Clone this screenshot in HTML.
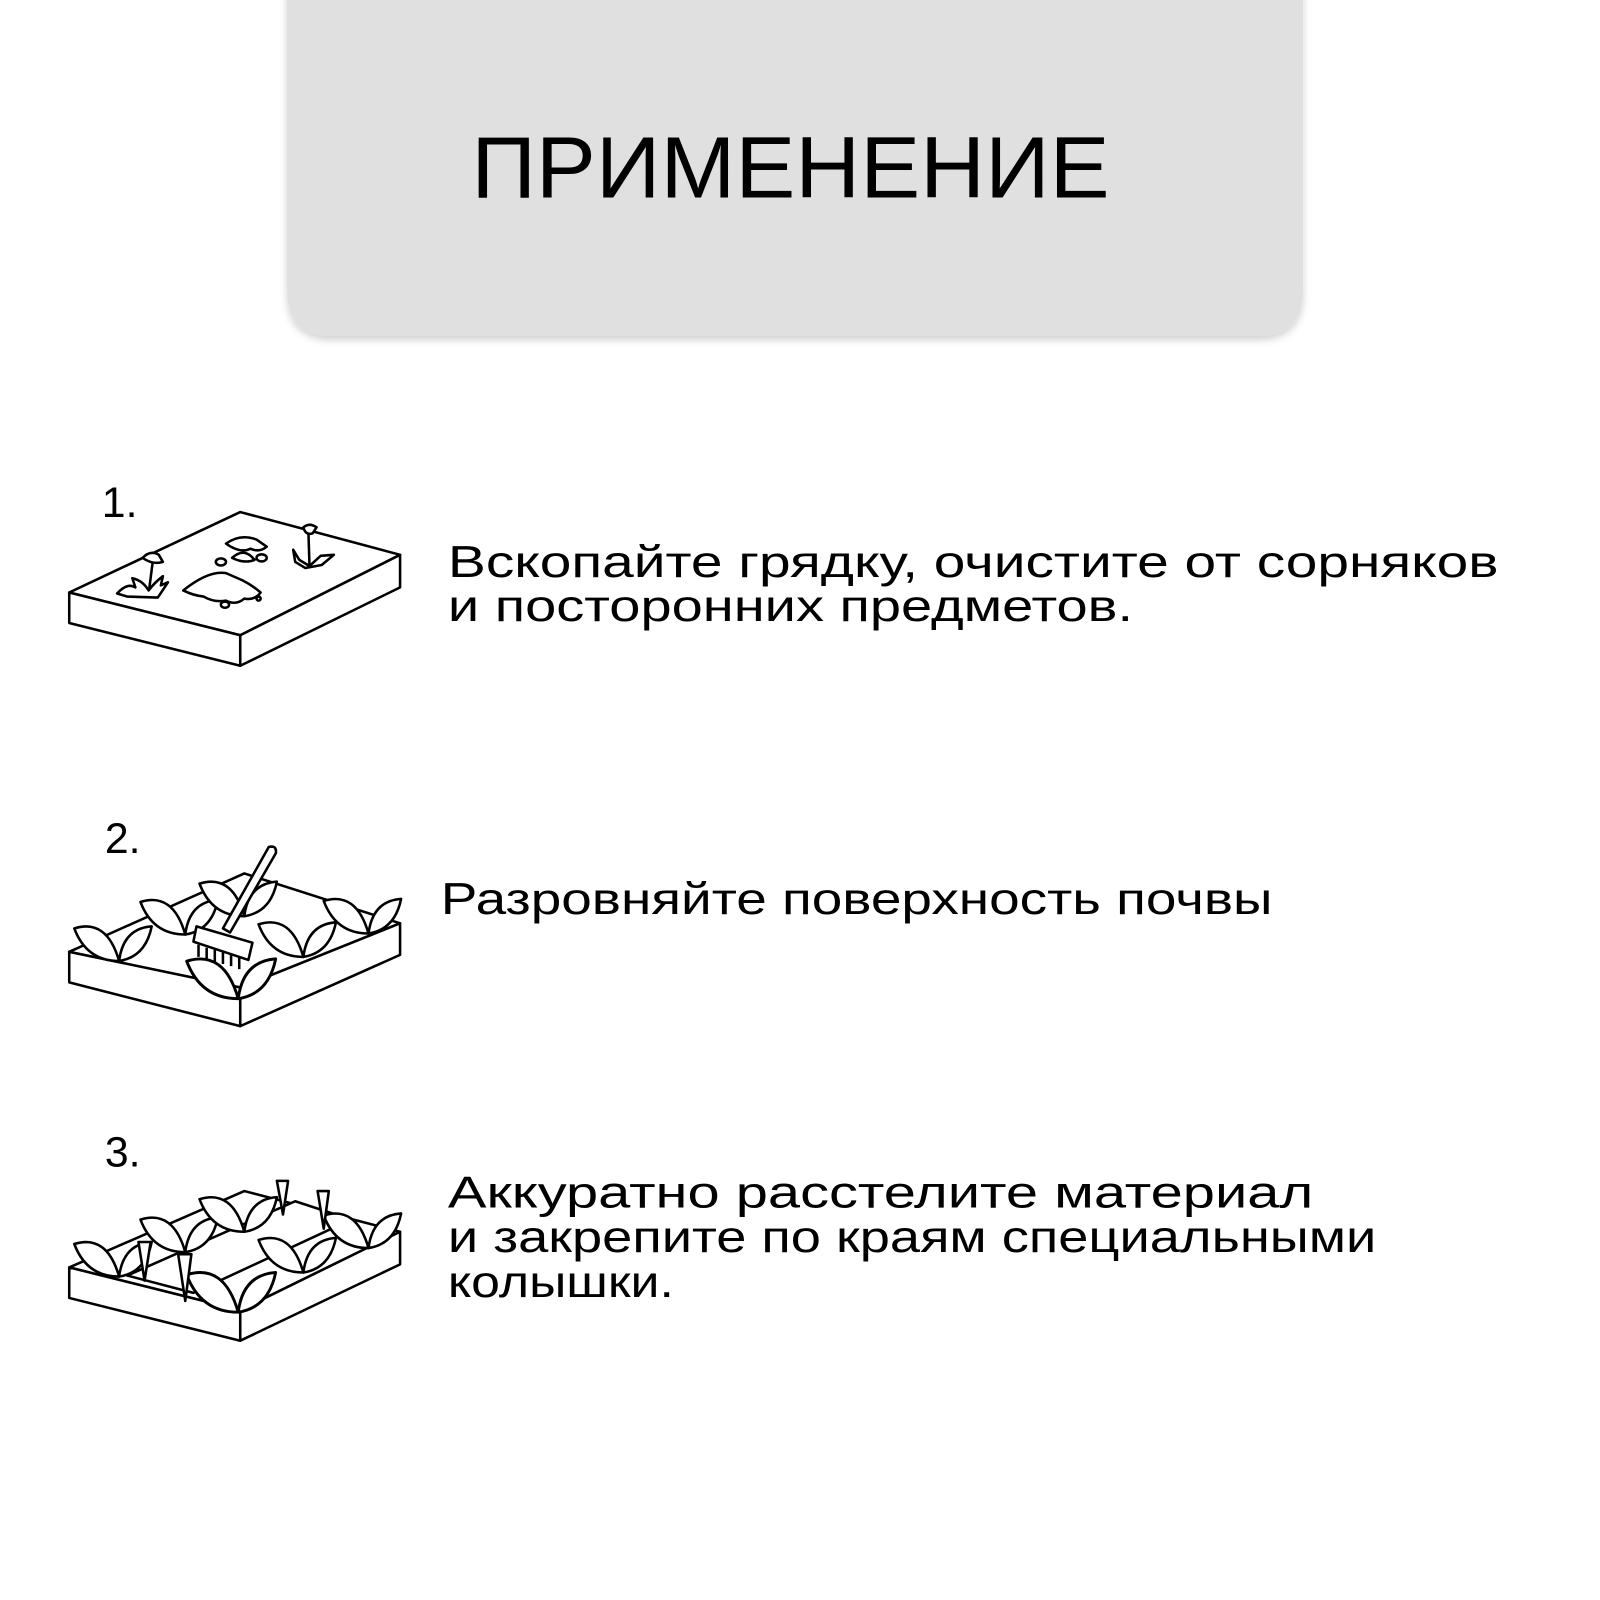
<!DOCTYPE html>
<html><head><meta charset="utf-8"><style>
html,body{margin:0;padding:0;background:#fff;width:1600px;height:1600px;overflow:hidden}
svg{display:block}
text{font-family:"Liberation Sans","DejaVu Sans",sans-serif;fill:#000}
</style></head><body>
<svg width="1600" height="1600" viewBox="0 0 1600 1600" xmlns="http://www.w3.org/2000/svg">
<defs>
<filter id="sh" x="-5%" y="-5%" width="110%" height="120%"><feDropShadow dx="0" dy="4" stdDeviation="4" flood-color="#000" flood-opacity="0.18"/></filter>
<g id="leaf">
<path d="M-44,-12 Q-12,-22 0,20 Q-32,20 -44,-12Z"/>
<path d="M32,-14 Q4,-12 0,20 Q26,16 32,-14Z"/>
</g>
</defs>
<g transform="scale(1.018)">
<path d="M282,-10 H1280 V285 Q1280,330 1235,330 H327 Q282,330 282,285Z" fill="#e0e0e0" filter="url(#sh)"/>
<text x="463" y="194" font-size="86" textLength="627" lengthAdjust="spacingAndGlyphs">ПРИМЕНЕНИЕ</text>

<text x="100" y="508" font-size="42">1.</text>
<text x="103" y="838" font-size="42">2.</text>
<text x="103" y="1146" font-size="42">3.</text>

<g font-size="44">
<text x="440" y="567" textLength="1032" lengthAdjust="spacingAndGlyphs">Вскопайте грядку, очистите от сорняков</text>
<text x="440" y="610" textLength="673" lengthAdjust="spacingAndGlyphs">и посторонних предметов.</text>
<text x="433" y="898" textLength="817" lengthAdjust="spacingAndGlyphs">Разровняйте поверхность почвы</text>
<text x="440" y="1186" textLength="850" lengthAdjust="spacingAndGlyphs">Аккуратно расстелите материал</text>
<text x="440" y="1230" textLength="912" lengthAdjust="spacingAndGlyphs">и закрепите по краям специальными</text>
<text x="440" y="1274" textLength="222" lengthAdjust="spacingAndGlyphs">колышки.</text>
</g>

<g fill="#fff" stroke="#000" stroke-width="2.5" stroke-linejoin="round">
<!-- box 1 -->
<path d="M68,582 L236,503 L393,545 L236,624 Z"/>
<path d="M68,582 L236,624 L236,654 L68,612 Z"/>
<path d="M236,624 L393,545 L393,577 L236,654 Z"/>
<path d="M180,580 Q205,560 222,563 L238,570 Q248,575 256,582 Q250,590 240,588 Q232,595 222,590 Q210,592 200,586 Q190,585 180,580Z"/>
<ellipse cx="221" cy="594" rx="4" ry="3"/><ellipse cx="254" cy="588" rx="2" ry="2"/>
<path d="M222,534 Q236,524 252,530 L262,537 Q255,543 246,539 Q236,544 222,534Z"/>
<path d="M228,548 Q240,537 250,550 Q240,554 228,548Z"/>
<ellipse cx="217" cy="552" rx="5" ry="3.5"/><ellipse cx="257" cy="548" rx="5" ry="3.5"/>
<path d="M140,548 Q148,540 156,545 L160,552 Q150,555 140,548Z"/>
<path d="M150,552 L146,583" fill="none"/>
<path d="M115,583 Q125,572 133,577 L130,568 Q140,570 146,580 Q152,572 160,566 L158,575 L165,572 L155,587 L125,586Z"/>
<path d="M298,518 Q304,513 311,518 L307,524 Q300,526 298,518Z"/>
<path d="M303,524 L304,555" fill="none"/>
<path d="M288,540 L294,550 L304,556 L315,546 L328,545 L316,555 L300,558 L290,552Z"/>

<!-- box 2 -->
<path d="M68,935 L240,858 L393,907 L236,970 Z"/>
<path d="M68,935 L236,970 L236,1008 L68,965 Z"/>
<path d="M236,970 L393,907 L393,938 L236,1008 Z"/>
<g transform="translate(117,924)"><use href="#leaf"/></g>
<g transform="translate(182,898)"><use href="#leaf"/></g>
<g transform="translate(240,880)"><use href="#leaf"/></g>
<g transform="translate(362,897)"><use href="#leaf"/></g>
<g transform="translate(298,920)"><use href="#leaf"/></g>
<path d="M264,832 Q272,830 271,838 L226,916 L219,912 Z"/>
<path d="M190,925 L193,910 L248,926 L244,943 Z"/>
<path d="M195,928 v12 M203,931 v12 M211,933 v12 M219,935 v12 M227,937 v12 M235,940 v12" fill="none"/>
<g transform="translate(234,958) scale(1.15)"><use href="#leaf"/></g>

<!-- box 3 -->
<path d="M68,1245 L240,1170 L393,1210 L236,1287 Z"/>
<path d="M68,1245 L236,1287 L236,1317 L68,1275 Z"/>
<path d="M236,1287 L393,1210 L393,1242 L236,1317 Z"/>
<path d="M125,1253 L290,1180 L345,1198 L190,1270 Z"/>
<g transform="translate(117,1234)"><use href="#leaf"/></g>
<g transform="translate(182,1210)"><use href="#leaf"/></g>
<g transform="translate(240,1190)"><use href="#leaf"/></g>
<g transform="translate(362,1206)"><use href="#leaf"/></g>
<g transform="translate(298,1230)"><use href="#leaf"/></g>
<g transform="translate(234,1266) scale(1.15)"><use href="#leaf"/></g>
<path d="M272,1160 L283,1160 L278,1193Z"/><path d="M312,1170 L323,1170 L318,1207Z"/>
<path d="M136,1220 L148,1220 L142,1258Z"/><path d="M175,1232 L188,1232 L182,1278Z"/>
</g>
</g>
</svg>
</body></html>
